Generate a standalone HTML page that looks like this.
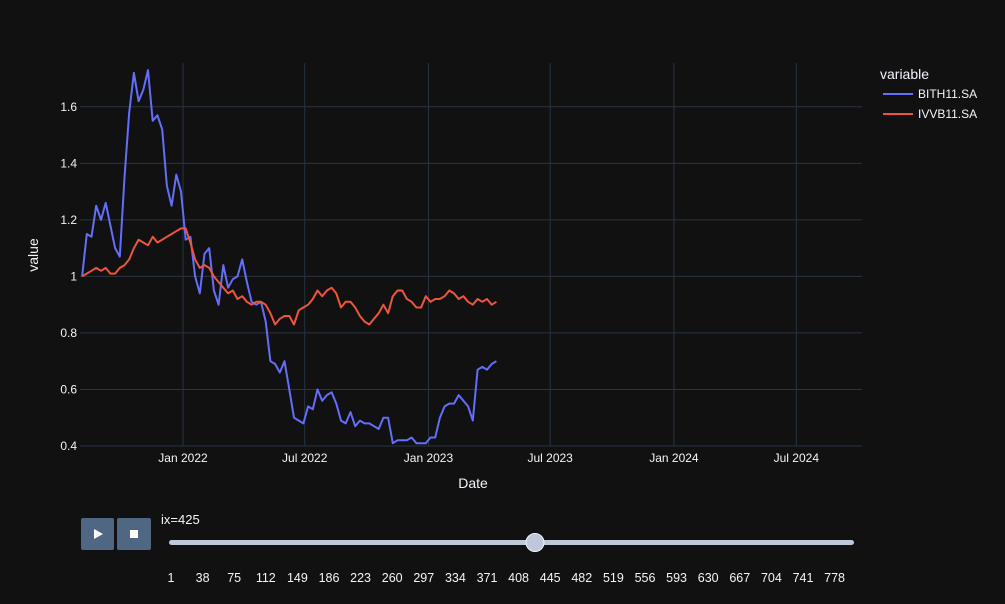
<!DOCTYPE html>
<html><head><meta charset="utf-8"><style>
html,body{margin:0;padding:0;background:#111111;}
svg{display:block;font-family:"Liberation Sans",sans-serif;}
</style></head><body>
<svg id="chart" width="1005" height="604" viewBox="0 0 1005 604">
<rect x="0" y="0" width="1005" height="604" fill="#111111"/>
<g id="grid"></g>
<g id="series"></g>
<g id="axes"></g>
<text x="473" y="488" fill="#f2f5fa" font-size="14" text-anchor="middle">Date</text>
<text x="38" y="255" fill="#f2f5fa" font-size="14" text-anchor="middle" transform="rotate(-90 38 255)">value</text>
<g>
<text x="880" y="79" fill="#f2f5fa" font-size="14">variable</text>
<g><line x1="883" y1="94" x2="913" y2="94" stroke="#636efa" stroke-width="2"/><text x="918" y="98" fill="#f2f5fa" font-size="12">BITH11.SA</text></g>
<g><line x1="883" y1="114" x2="913" y2="114" stroke="#ef553b" stroke-width="2"/><text x="918" y="118" fill="#f2f5fa" font-size="12">IVVB11.SA</text></g>
</g>
<g><rect x="81" y="518" width="33" height="32" rx="2" fill="#506784"/><polygon points="94,529 94,539 103,534" fill="#ffffff"/></g>
<g><rect x="117" y="518" width="34" height="32" rx="2" fill="#506784"/><rect x="130" y="530" width="8" height="8" fill="#ffffff"/></g>
<text x="161" y="524" fill="#f2f5fa" font-size="13">ix=425</text>
<rect x="169" y="540" width="685" height="5" rx="2.5" fill="#bec8d9"/>
<g id="sliderticks"></g>
<circle cx="535" cy="542.5" r="9" fill="#bec8d9" stroke="#f2f5fa" stroke-width="1"/>
</svg>
<script>
const startDate = "2021-08-04";
const stepDays = 7;
const bith = [1.0,1.15,1.14,1.25,1.2,1.26,1.18,1.1,1.07,1.35,1.58,1.72,1.62,1.66,1.73,1.55,1.57,1.52,1.32,1.25,1.36,1.3,1.13,1.14,1.0,0.94,1.08,1.1,0.95,0.9,1.04,0.96,0.99,1.0,1.06,0.98,0.91,0.9,0.91,0.84,0.7,0.69,0.66,0.7,0.6,0.5,0.49,0.48,0.54,0.53,0.6,0.56,0.58,0.59,0.55,0.49,0.48,0.52,0.47,0.49,0.48,0.48,0.47,0.46,0.5,0.5,0.41,0.42,0.42,0.42,0.43,0.41,0.41,0.41,0.43,0.43,0.5,0.54,0.55,0.55,0.58,0.56,0.54,0.49,0.67,0.68,0.67,0.69,0.7];
const ivvb = [1.0,1.01,1.02,1.03,1.02,1.03,1.01,1.01,1.03,1.04,1.06,1.1,1.13,1.12,1.11,1.14,1.12,1.13,1.14,1.15,1.16,1.17,1.17,1.12,1.06,1.03,1.04,1.03,1.0,0.98,0.96,0.94,0.95,0.92,0.93,0.91,0.9,0.91,0.91,0.9,0.87,0.83,0.85,0.86,0.86,0.83,0.88,0.89,0.9,0.92,0.95,0.93,0.95,0.96,0.94,0.89,0.91,0.91,0.89,0.86,0.84,0.83,0.85,0.87,0.9,0.87,0.93,0.95,0.95,0.92,0.91,0.89,0.89,0.93,0.91,0.92,0.92,0.93,0.95,0.94,0.92,0.93,0.91,0.9,0.92,0.91,0.92,0.9,0.91];
const yTicks = [0.4,0.6,0.8,1.0,1.2,1.4,1.6];
const yTickLabels = ["0.4","0.6","0.8","1","1.2","1.4","1.6"];
const xTickDates = ["2022-01-01","2022-07-01","2023-01-01","2023-07-01","2024-01-01","2024-07-01"];
const xTickLabels = ["Jan 2022","Jul 2022","Jan 2023","Jul 2023","Jan 2024","Jul 2024"];
const sliderLabels = [1,38,75,112,149,186,223,260,297,334,371,408,445,482,519,556,593,630,667,704,741,778];

const NS="http://www.w3.org/2000/svg";
const PL=80, PR=862, PT=63, PB=446, YMIN=0.4, YMAX=1.755;
const ref=Date.parse("2022-01-01");
function dayOf(d){return (Date.parse(d)-ref)/86400000;}
function xs(day){return 183+day*0.6725;}
function ys(v){return PB-(v-YMIN)/(YMAX-YMIN)*(PB-PT);}
function mk(tag,attrs,parent){const e=document.createElementNS(NS,tag);for(const k in attrs)e.setAttribute(k,attrs[k]);parent.appendChild(e);return e;}
const grid=document.getElementById('grid'), axes=document.getElementById('axes'), ser=document.getElementById('series');
yTicks.forEach((t,i)=>{
  const l=mk('line',{x1:PL,x2:PR,y1:ys(t),y2:ys(t),stroke:'#283442','stroke-width':1},grid);
  
  
  const tx=mk('text',{x:PL-3,y:ys(t)+4,fill:'#f2f5fa','font-size':12,'text-anchor':'end'},axes);
  tx.textContent=yTickLabels[i];
  
  
});
xTickDates.forEach((d,i)=>{
  const x=xs(dayOf(d));
  const l=mk('line',{x1:x,x2:x,y1:PT,y2:PB,stroke:'#283442','stroke-width':1},grid);
  
  
  const tx=mk('text',{x:x,y:PB+16,fill:'#f2f5fa','font-size':12,'text-anchor':'middle'},axes);
  tx.textContent=xTickLabels[i];
  
  
});
const clip=mk('clipPath',{id:'pc'},document.getElementById('chart'));
mk('rect',{x:PL,y:PT-1,width:PR-PL,height:PB-PT+2},clip);
const s0=dayOf(startDate);
function drawLine(vals,color,name){
  const pts=vals.map((v,i)=>xs(s0+i*stepDays).toFixed(1)+','+ys(v).toFixed(1)).join(' ');
  const p=mk('polyline',{points:pts,fill:'none',stroke:color,'stroke-width':2,'stroke-linejoin':'round','clip-path':'url(#pc)'},ser);
  
  
}
drawLine(bith,'#636efa','line-bith11');
drawLine(ivvb,'#ef553b','line-ivvb11');
const st=document.getElementById('sliderticks');
sliderLabels.forEach((lab,i)=>{
  const x=171+i*31.6;
  const t=mk('text',{x:x,y:582,fill:'#f2f5fa','font-size':12.5,'text-anchor':'middle'},st);
  t.textContent=lab;
  
  
});
</script>
</body></html>
